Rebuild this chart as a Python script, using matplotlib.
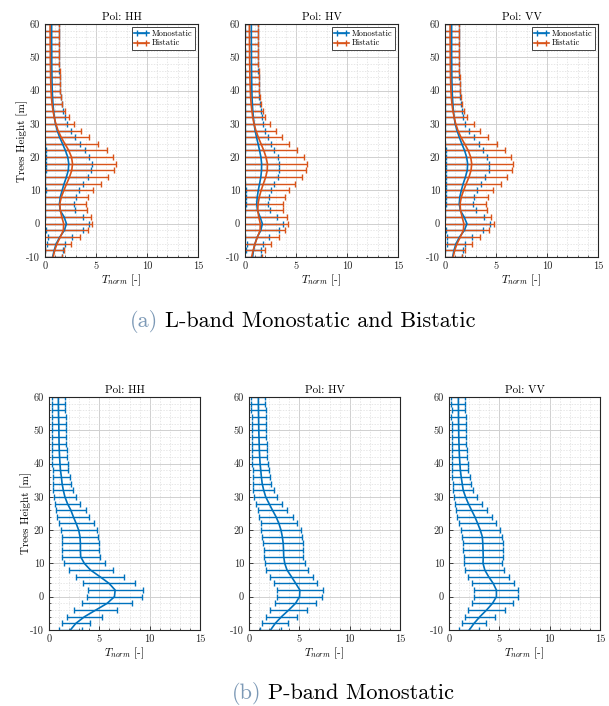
import numpy as np
import matplotlib.pyplot as plt
from matplotlib.ticker import MultipleLocator

plt.rcParams['font.family'] = ['cmr10', 'DejaVu Serif']
plt.rcParams['mathtext.fontset'] = 'cm'
plt.rcParams['axes.unicode_minus'] = False
plt.rcParams['axes.formatter.use_mathtext'] = False

heights = np.arange(-10, 62, 2)
pols = ['HH', 'HV', 'VV']

# L-band, monostatic
l_mono_mean = {
    'HH': [0.75, 0.90, 1.10, 1.45, 1.90, 2.10, 1.88, 1.48, 1.42, 1.50, 1.68, 1.87, 2.10, 2.28, 2.33, 2.23, 2.00, 1.72,
           1.43, 1.20, 1.03, 0.92, 0.84, 0.78, 0.74, 0.71, 0.69, 0.68, 0.67, 0.66, 0.66, 0.66, 0.65, 0.65, 0.65, 0.65],
    'HV': [0.75, 0.83, 0.98, 1.20, 1.55, 1.70, 1.48, 1.22, 1.15, 1.20, 1.30, 1.43, 1.55, 1.62, 1.63, 1.56, 1.43, 1.28,
           1.13, 0.99, 0.89, 0.82, 0.76, 0.72, 0.69, 0.67, 0.66, 0.65, 0.64, 0.63, 0.63, 0.63, 0.62, 0.62, 0.62, 0.62],
    'VV': [0.75, 0.88, 1.08, 1.42, 1.90, 2.15, 1.88, 1.50, 1.40, 1.45, 1.60, 1.78, 2.00, 2.18, 2.22, 2.12, 1.92, 1.65,
           1.40, 1.18, 1.00, 0.90, 0.82, 0.77, 0.73, 0.70, 0.68, 0.67, 0.66, 0.66, 0.65, 0.65, 0.65, 0.65, 0.65, 0.65],
}
l_mono_std = {
    'HH': [0.90, 0.86, 0.89, 1.20, 1.79, 2.21, 1.88, 1.49, 1.39, 1.51, 1.62, 1.86, 2.08, 2.23, 2.28, 2.12, 1.92, 1.68,
           1.48, 1.32, 1.09, 1.01, 0.91, 0.90, 0.81, 0.77, 0.76, 0.75, 0.75, 0.75, 0.74, 0.73, 0.73, 0.73, 0.72, 0.72],
    'HV': [0.85, 0.72, 0.82, 1.20, 1.75, 2.00, 1.67, 1.23, 1.10, 1.15, 1.25, 1.44, 1.65, 1.75, 1.74, 1.64, 1.42, 1.24,
           1.12, 0.96, 0.86, 0.80, 0.76, 0.76, 0.73, 0.70, 0.69, 0.68, 0.68, 0.68, 0.67, 0.67, 0.67, 0.66, 0.66, 0.65],
    'VV': [0.92, 0.87, 0.87, 1.18, 1.85, 2.25, 1.92, 1.50, 1.35, 1.40, 1.50, 1.72, 1.95, 2.12, 2.13, 2.03, 1.83, 1.65,
           1.45, 1.22, 1.00, 0.90, 0.85, 0.80, 0.77, 0.75, 0.75, 0.75, 0.75, 0.74, 0.74, 0.73, 0.73, 0.72, 0.72, 0.72],
}

# L-band, bistatic
l_bi_mean = {
    'HH': [0.80, 0.95, 1.18, 1.50, 1.80, 1.83, 1.65, 1.50, 1.45, 1.60, 1.85, 2.12, 2.40, 2.62, 2.70, 2.60, 2.33, 1.95,
           1.58, 1.28, 1.06, 0.90, 0.78, 0.69, 0.63, 0.59, 0.57, 0.55, 0.54, 0.53, 0.52, 0.52, 0.51, 0.51, 0.50, 0.50],
    'HV': [0.65, 0.80, 0.98, 1.22, 1.48, 1.50, 1.35, 1.25, 1.28, 1.40, 1.58, 1.80, 2.03, 2.18, 2.20, 2.06, 1.84, 1.57,
           1.30, 1.07, 0.88, 0.76, 0.67, 0.60, 0.55, 0.52, 0.50, 0.48, 0.47, 0.46, 0.45, 0.45, 0.44, 0.44, 0.43, 0.43],
    'VV': [0.80, 0.95, 1.18, 1.50, 1.80, 1.85, 1.68, 1.52, 1.48, 1.60, 1.82, 2.08, 2.35, 2.55, 2.62, 2.52, 2.28, 1.92,
           1.56, 1.27, 1.05, 0.89, 0.77, 0.68, 0.62, 0.58, 0.56, 0.54, 0.53, 0.52, 0.52, 0.51, 0.51, 0.50, 0.50, 0.50],
}
l_bi_std = {
    'HH': [0.90, 0.95, 1.37, 1.93, 2.45, 2.81, 2.86, 2.62, 2.54, 2.65, 2.89, 3.37, 3.81, 4.14, 4.26, 4.10, 3.72, 3.21,
           2.73, 2.22, 1.75, 1.42, 1.17, 1.01, 0.95, 0.91, 0.90, 0.89, 0.89, 0.89, 0.89, 0.87, 0.88, 0.87, 0.87, 0.87],
    'HV': [0.97, 1.15, 1.52, 2.13, 2.47, 2.70, 2.75, 2.52, 2.44, 2.55, 2.77, 3.10, 3.57, 3.82, 3.85, 3.69, 3.21, 2.78,
           2.30, 1.93, 1.57, 1.24, 1.05, 0.95, 0.91, 0.88, 0.87, 0.87, 0.87, 0.86, 0.86, 0.85, 0.86, 0.85, 0.85, 0.84],
    'VV': [0.87, 1.00, 1.42, 1.95, 2.50, 3.00, 2.87, 2.63, 2.52, 2.60, 2.88, 3.37, 3.70, 4.00, 4.08, 3.93, 3.62, 3.13,
           2.64, 2.18, 1.75, 1.31, 1.13, 1.02, 0.95, 0.92, 0.91, 0.90, 0.89, 0.89, 0.88, 0.88, 0.87, 0.88, 0.87, 0.87],
}

# P-band, monostatic
p_mono_mean = {
    'HH': [2.12, 2.67, 3.53, 4.65, 5.77, 6.50, 6.57, 5.97, 5.07, 4.13, 3.51, 3.15, 3.12, 3.12, 3.08, 2.95, 2.70, 2.42,
           2.17, 1.83, 1.58, 1.42, 1.30, 1.23, 1.14, 1.09, 1.05, 1.02, 1.00, 0.99, 0.98, 0.97, 0.95, 0.94, 0.93, 0.93],
    'HV': [2.14, 2.61, 3.23, 3.95, 4.62, 5.02, 5.05, 4.64, 4.22, 3.78, 3.55, 3.45, 3.43, 3.40, 3.31, 3.18, 2.97, 2.69,
           2.33, 1.99, 1.66, 1.46, 1.31, 1.23, 1.17, 1.10, 1.06, 1.03, 1.01, 0.99, 0.97, 0.96, 0.95, 0.94, 0.93, 0.93],
    'VV': [2.01, 2.49, 3.07, 3.73, 4.32, 4.71, 4.71, 4.39, 3.94, 3.56, 3.38, 3.40, 3.38, 3.36, 3.31, 3.11, 2.85, 2.57,
           2.24, 1.92, 1.64, 1.41, 1.31, 1.21, 1.13, 1.08, 1.04, 1.01, 0.99, 0.97, 0.96, 0.95, 0.94, 0.94, 0.93, 0.93],
}
p_mono_std = {
    'HH': [1.16, 1.41, 1.78, 2.15, 2.52, 2.70, 2.73, 2.57, 2.39, 2.18, 2.02, 1.89, 1.86, 1.86, 1.82, 1.79, 1.74, 1.59,
           1.47, 1.27, 1.12, 0.99, 0.90, 0.83, 0.78, 0.77, 0.75, 0.73, 0.72, 0.71, 0.71, 0.70, 0.69, 0.69, 0.68, 0.68],
    'HV': [1.08, 1.29, 1.57, 1.86, 2.07, 2.27, 2.30, 2.16, 2.17, 2.09, 1.99, 1.96, 1.97, 2.01, 1.99, 1.95, 1.81, 1.66,
           1.47, 1.33, 1.16, 1.03, 0.91, 0.83, 0.79, 0.77, 0.75, 0.74, 0.73, 0.72, 0.71, 0.71, 0.70, 0.70, 0.69, 0.69],
    'VV': [0.98, 1.23, 1.51, 1.84, 2.07, 2.19, 2.19, 2.11, 2.02, 1.94, 1.92, 1.94, 1.96, 1.97, 1.99, 1.92, 1.86, 1.74,
           1.51, 1.32, 1.18, 1.01, 0.91, 0.88, 0.80, 0.77, 0.75, 0.74, 0.73, 0.72, 0.71, 0.70, 0.70, 0.69, 0.69, 0.69],
}

blue = '#0072BD'
orange = '#D95319'
label_color = '#7c99b6'

fig = plt.figure(figsize=(6.09, 7.06), dpi=100)


def style_axes(ax, pol, first):
    ax.set_xlim(0, 15)
    ax.set_ylim(-10, 60)
    ax.xaxis.set_major_locator(MultipleLocator(5))
    ax.xaxis.set_minor_locator(MultipleLocator(1))
    ax.yaxis.set_major_locator(MultipleLocator(10))
    ax.yaxis.set_minor_locator(MultipleLocator(2))
    ax.grid(which='major', color='#d0d0d0', lw=0.7)
    ax.grid(which='minor', color='#dddddd', lw=0.5, ls=(0, (2, 2)))
    ax.set_axisbelow(True)
    ax.tick_params(which='both', direction='in', labelsize=7.5, colors='#262626',
                   top=False, right=False)
    ax.tick_params(which='major', length=3, width=0.6)
    ax.tick_params(which='minor', length=1.5, width=0.5)
    for sp in ax.spines.values():
        sp.set_color('#262626')
        sp.set_linewidth(0.8)
    ax.set_title('Pol: ' + pol, fontsize=8, pad=3)
    ax.set_xlabel(r'$T_{norm}$ [-]', fontsize=8, labelpad=1)
    if first:
        ax.set_ylabel('Trees Height [m]', fontsize=8, labelpad=-1)


bar_kw = dict(lw=1.2, elinewidth=1.0, capsize=2.2, capthick=1.0, clip_on=True)

# top row: L-band monostatic vs bistatic
top_left = [45, 245, 445]
for i, pol in enumerate(pols):
    ax = fig.add_axes([top_left[i] / 609, 1 - 257 / 706, 153 / 609, 233 / 706])
    ax.errorbar(l_mono_mean[pol], heights, xerr=l_mono_std[pol], color=blue,
                label='Monostatic', **bar_kw)
    ax.errorbar(l_bi_mean[pol], heights, xerr=l_bi_std[pol], color=orange,
                label='Bistatic', **bar_kw)
    style_axes(ax, pol, i == 0)
    leg = ax.legend(loc='upper right', fontsize=6, frameon=True, fancybox=False,
                    edgecolor='#262626', framealpha=1, borderpad=0.3, labelspacing=0.1,
                    handlelength=1.8, handletextpad=0.3, borderaxespad=0.4)
    leg.get_frame().set_linewidth(0.6)

# bottom row: P-band monostatic
bot_left = [49, 249, 449]
for i, pol in enumerate(pols):
    ax = fig.add_axes([bot_left[i] / 609, 1 - 630 / 706, 151 / 609, 233 / 706])
    ax.errorbar(p_mono_mean[pol], heights, xerr=p_mono_std[pol], color=blue, **bar_kw)
    style_axes(ax, pol, i == 0)

# sub-captions
fig.text(130 / 609, 1 - 327 / 706, '(a)', fontsize=16, color=label_color, ha='left', va='baseline')
fig.text(165 / 609, 1 - 327 / 706, 'L-band Monostatic and Bistatic', fontsize=16, ha='left', va='baseline')
fig.text(232 / 609, 1 - 699 / 706, '(b)', fontsize=16, color=label_color, ha='left', va='baseline')
fig.text(268 / 609, 1 - 699 / 706, 'P-band Monostatic', fontsize=16, ha='left', va='baseline')

fig.savefig('out.png', dpi=100)
